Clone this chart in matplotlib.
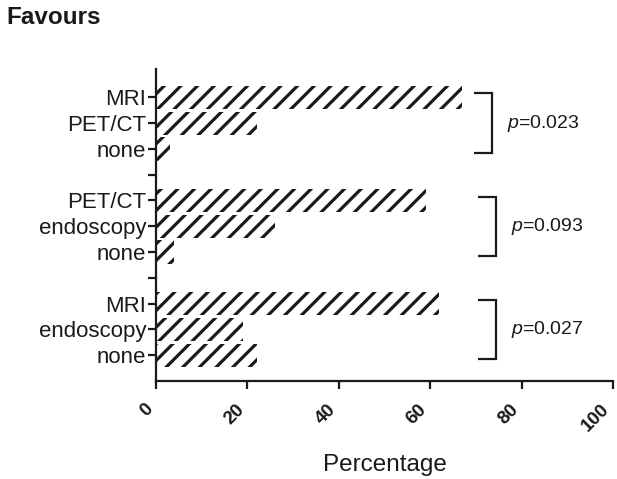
import matplotlib
matplotlib.use("Agg")
import matplotlib.pyplot as plt

plt.rcParams["font.family"] = ["Liberation Sans", "DejaVu Sans"]
plt.rcParams["mathtext.fontset"] = "custom"
plt.rcParams["mathtext.rm"] = "Liberation Sans"
plt.rcParams["mathtext.it"] = "Liberation Sans:italic"
plt.rcParams["hatch.linewidth"] = 2.3

# groups listed bottom to top, bars inside each group bottom to top
group_labels = [
    ["none", "endoscopy", "MRI"],
    ["none", "endoscopy", "PET/CT"],
    ["none", "PET/CT", "MRI"],
]
group_values = [
    [22, 19, 62],
    [4, 26, 59],
    [3, 22, 67],
]
p_values = ["0.027", "0.093", "0.023"]
bracket_x = [70.5, 70.5, 69.5]

dark = "#1a1a1a"

fig = plt.figure(figsize=(6.17, 4.79), dpi=100)
ax = fig.add_axes([0.2528, 0.2046, 0.7407, 0.6514])

ypos, labels, values = [], [], []
for g, (labs, vals) in enumerate(zip(group_labels, group_values)):
    for i, (lab, v) in enumerate(zip(labs, vals)):
        ypos.append(g * 4 + i + 1)
        labels.append(lab)
        values.append(v)

ax.barh(ypos, values, height=0.9, color="white", hatch="//", edgecolor=dark, linewidth=0)

for g in range(3):
    y0, y1 = g * 4 + 0.85, g * 4 + 3.15
    x0 = bracket_x[g]
    x1 = x0 + 4
    ax.plot([x0, x1, x1, x0], [y1, y1, y0, y0], color=dark, lw=1.6,
            clip_on=False, solid_capstyle="butt", solid_joinstyle="miter")
    ax.text(x1 + 3.2, g * 4 + 2, r"$\it{p}$=" + p_values[g], fontsize=14,
            va="center", ha="left", color=dark)

ax.set_xlim(0, 100)
ax.set_ylim(0, 12.1)
ax.set_yticks(ypos + [4, 8])
ax.set_yticklabels(labels + ["", ""], fontsize=16)
ax.set_xticks([0, 20, 40, 60, 80, 100])
ax.set_xticklabels(["0", "20", "40", "60", "80", "100"], fontsize=13.5,
                   fontweight="bold", rotation=45, ha="right", va="bottom",
                   rotation_mode="anchor")
ax.tick_params(axis="both", width=1.6, length=6, color=dark, labelcolor=dark)
ax.tick_params(axis="x", pad=17)
ax.tick_params(axis="y", pad=1)
for s in ["top", "right"]:
    ax.spines[s].set_visible(False)
for s in ["left", "bottom"]:
    ax.spines[s].set_linewidth(1.6)
    ax.spines[s].set_color(dark)

ax.set_xlabel("Percentage", fontsize=17.5, color=dark)
ax.xaxis.label.set_va("center")
ax.xaxis.set_label_coords(0.5, -0.27)
fig.text(0.011, 0.964, "Favours", fontsize=17.5, fontweight="bold", va="center",
         ha="left", color=dark)

fig.savefig("out.png", dpi=100)
